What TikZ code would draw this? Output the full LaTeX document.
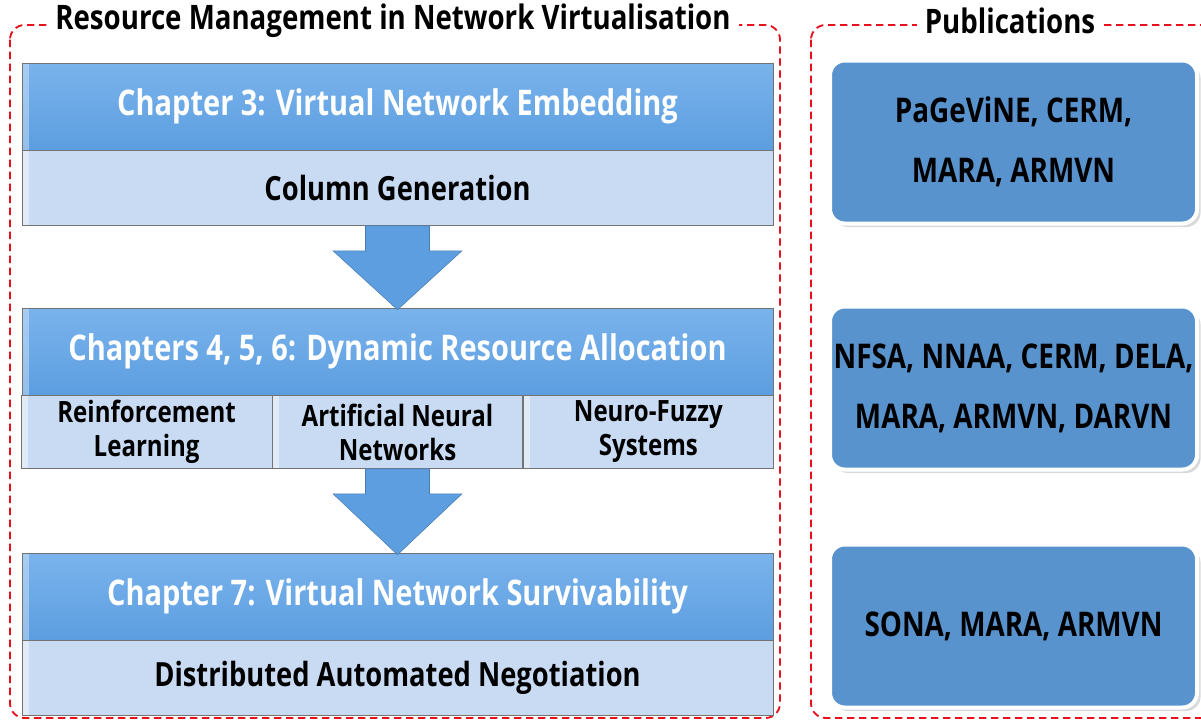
\documentclass[tikz,border=0pt]{standalone}
\usepackage{fontspec}
\setmainfont{Open Sans}[FakeStretch=0.82]
\usetikzlibrary{positioning,calc,shadows}

\definecolor{hdrtop}{HTML}{7AB3EC}
\definecolor{hdrblue}{HTML}{5C9EE0}
\definecolor{subblue}{HTML}{C9DBF3}
\definecolor{pubblue}{HTML}{5893CD}
\definecolor{framered}{HTML}{E8101C}

\tikzset{
  chapter/.style={draw=black!55, top color=hdrtop, bottom color=hdrblue,
    minimum width=563.25pt, minimum height=65.25pt, inner sep=0pt,
    text=white, font=\bfseries\fontsize{26.5}{30}\selectfont,
    path picture={\fill[white,opacity=0.35] (path picture bounding box.south west) rectangle ([xshift=5pt]path picture bounding box.north west);}},
  method/.style={draw=black!55, fill=subblue, minimum width=563.25pt,
    minimum height=56.25pt, inner sep=0pt,
    font=\bfseries\fontsize{25}{29}\selectfont,
    path picture={\fill[white,opacity=0.45] (path picture bounding box.south west) rectangle ([xshift=5pt]path picture bounding box.north west);}},
  smallmethod/.style={method, minimum width=187.75pt, minimum height=54.75pt,
    align=center, font=\bfseries\fontsize{22}{25.5}\selectfont},
  pubbox/.style={draw=white, line width=3pt, fill=pubblue, rounded corners=11pt,
    minimum width=275.25pt, minimum height=122.25pt, inner sep=0pt, align=center,
    font=\bfseries\fontsize{25.5}{45}\selectfont, drop shadow={opacity=0.3}},
  frame/.style={draw=framered, line width=1.4pt, dash pattern=on 5.5pt off 3.5pt, rounded corners=11pt},
  frametitle/.style={fill=white, inner xsep=6pt, inner ysep=1pt, font=\bfseries\fontsize{25.3}{29}\selectfont},
  blockarrow/.style={fill=hdrblue, draw=hdrblue!80!black, line width=0.4pt, line join=miter}
}

\begin{document}
\begin{tikzpicture}[x=0.75pt,y=0.75pt,yscale=-1,xscale=1]
\useasboundingbox (0,0) rectangle (1201,721);

% dashed frames
\draw[frame] (10,25) rectangle (780,718);
\draw[frame] (811,25) rectangle (1215,718);
\node[frametitle] (restitle) at (393,21) {Resource Management in Network Virtualisation};
\node[frametitle] (pubtitle) at (1010,21) {Publications};

% chapter 3
\node[chapter] (vne) at (397.5,106.5) {Chapter 3: Virtual Network Embedding};
\node[method, below=0pt of vne] (colgen) {Column Generation};

% chapters 4, 5, 6
\node[chapter] (dra) at (397.5,351.5) {Chapters 4, 5, 6: Dynamic Resource Allocation};
\node[smallmethod, below=0pt of dra] (ann) {Artificial Neural\\Networks};
\node[smallmethod, left=0pt of ann] (rl) {Reinforcement\\Learning};
\node[smallmethod, right=0pt of ann] (nfs) {Neuro-Fuzzy\\Systems};

% chapter 7
\node[chapter] (vns) at (397.5,596.5) {Chapter 7: Virtual Network Survivability};
\node[method, below=0pt of vns] (dan) {Distributed Automated Negotiation};

% block arrows
\draw[blockarrow] ($(colgen.south)+(-32,0)$) -- ($(colgen.south)+(-32,25)$)
  -- ($(colgen.south)+(-64.5,25)$) -- ($(dra.north)+(0,2)$)
  -- ($(colgen.south)+(64.5,25)$) -- ($(colgen.south)+(32,25)$)
  -- ($(colgen.south)+(32,0)$) -- cycle;
\draw[blockarrow] ($(ann.south)+(-32,0)$) -- ($(ann.south)+(-32,25)$)
  -- ($(ann.south)+(-64.5,25)$) -- ($(vns.north)+(0,2)$)
  -- ($(ann.south)+(64.5,25)$) -- ($(ann.south)+(32,25)$)
  -- ($(ann.south)+(32,0)$) -- cycle;

% publications
\node[pubbox] (pubvne) at (1013.5,142) {PaGeViNE, CERM,\\MARA, ARMVN};
\node[pubbox] (pubdra) at (1013.5,388) {NFSA, NNAA, CERM, DELA,\\MARA, ARMVN, DARVN};
\node[pubbox] (pubvns) at (1013.5,626) {SONA, MARA, ARMVN};

\end{tikzpicture}
\end{document}
